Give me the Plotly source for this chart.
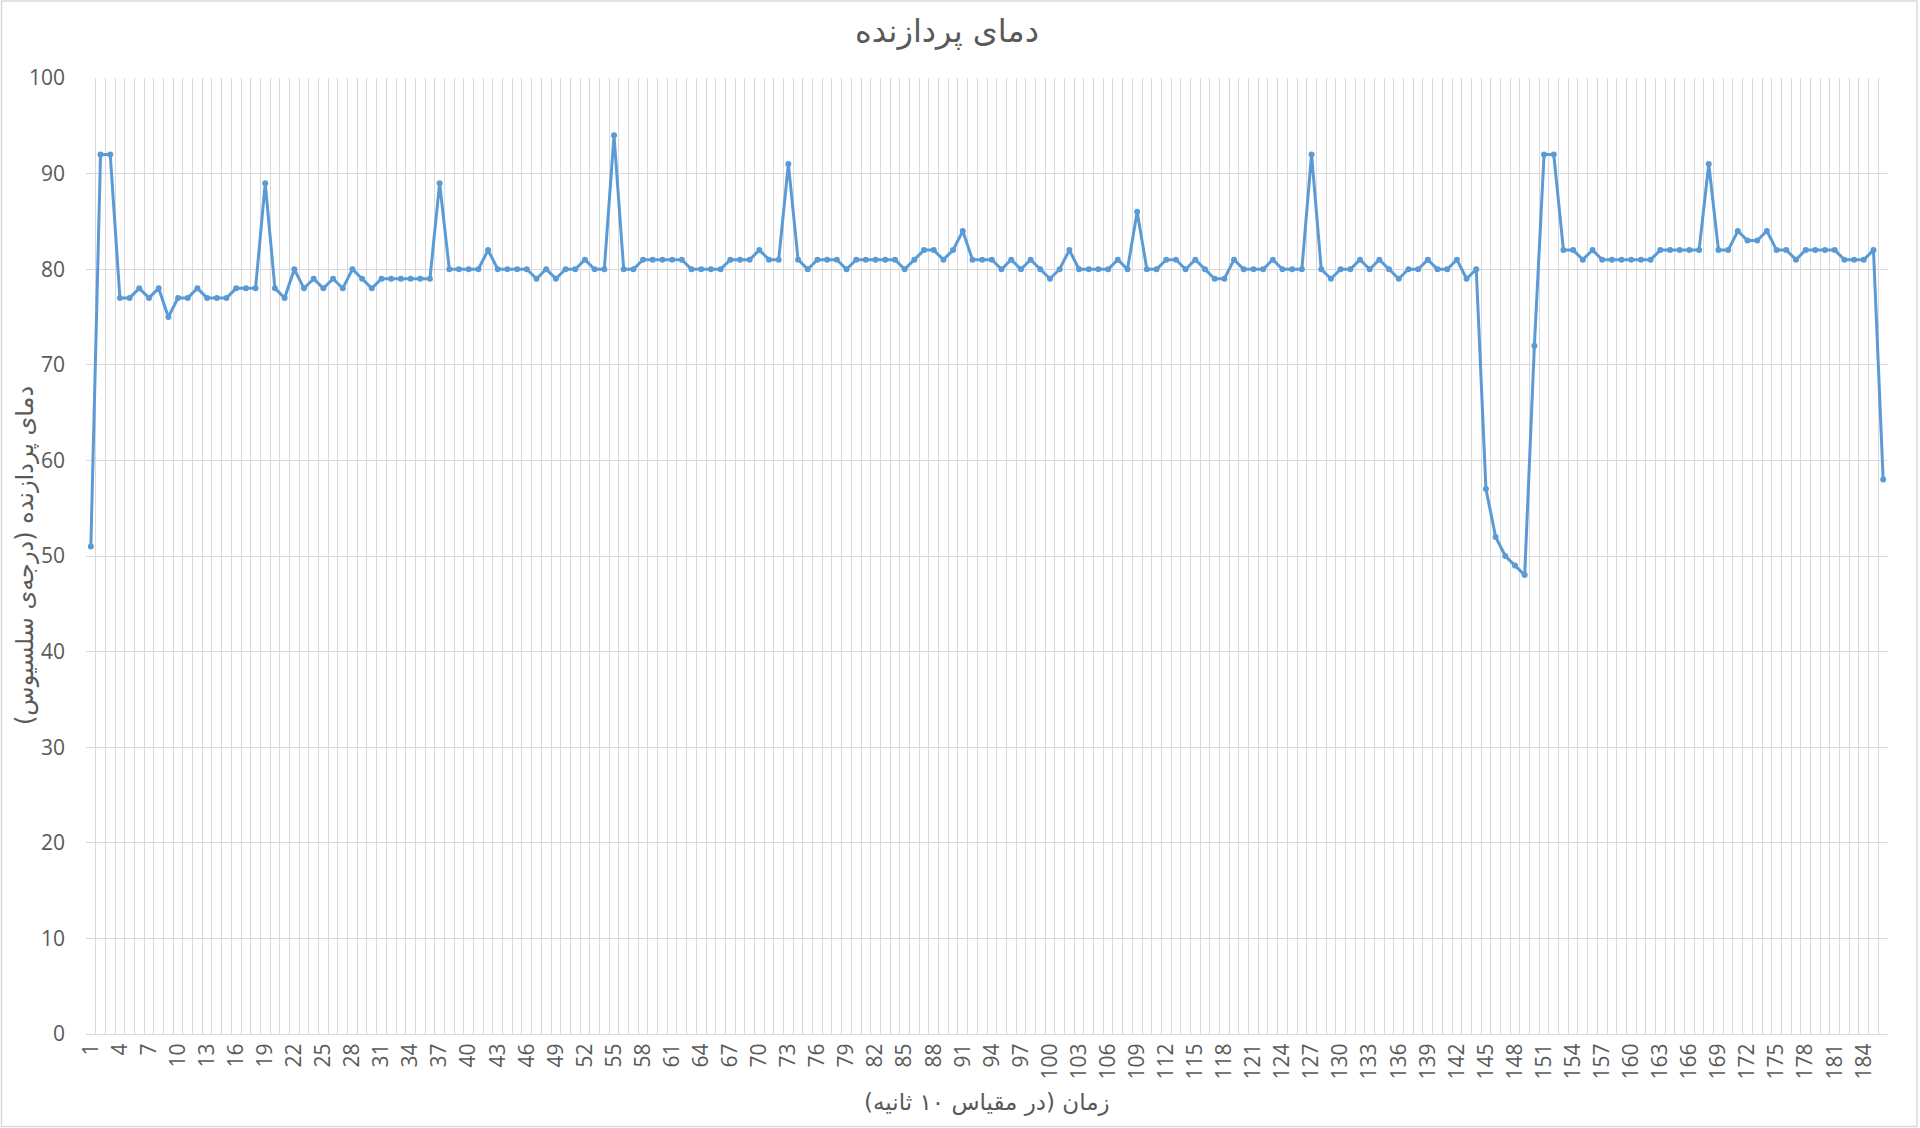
import plotly.graph_objects as go

# ---- data ----
time_index = list(range(1, 187))
temperature = [
    51, 92, 92, 77, 77, 78, 77, 78, 75, 77,
    77, 78, 77, 77, 77, 78, 78, 78, 89, 78,
    77, 80, 78, 79, 78, 79, 78, 80, 79, 78,
    79, 79, 79, 79, 79, 79, 89, 80, 80, 80,
    80, 82, 80, 80, 80, 80, 79, 80, 79, 80,
    80, 81, 80, 80, 94, 80, 80, 81, 81, 81,
    81, 81, 80, 80, 80, 80, 81, 81, 81, 82,
    81, 81, 91, 81, 80, 81, 81, 81, 80, 81,
    81, 81, 81, 81, 80, 81, 82, 82, 81, 82,
    84, 81, 81, 81, 80, 81, 80, 81, 80, 79,
    80, 82, 80, 80, 80, 80, 81, 80, 86, 80,
    80, 81, 81, 80, 81, 80, 79, 79, 81, 80,
    80, 80, 81, 80, 80, 80, 92, 80, 79, 80,
    80, 81, 80, 81, 80, 79, 80, 80, 81, 80,
    80, 81, 79, 80, 57, 52, 50, 49, 48, 72,
    92, 92, 82, 82, 81, 82, 81, 81, 81, 81,
    81, 81, 82, 82, 82, 82, 82, 91, 82, 82,
    84, 83, 83, 84, 82, 82, 81, 82, 82, 82,
    82, 81, 81, 81, 82, 58,
]
y_ticks = [0, 10, 20, 30, 40, 50, 60, 70, 80, 90, 100]

chart_title = "دمای پردازنده"
x_title = "زمان (در مقیاس ۱۰ ثانیه)"
y_title = "دمای پردازنده (درجه‌ی سلسیوس)"

# ---- layout geometry ----
W, H = 1920, 1128
L, R, T, B = 86, 32, 78, 94
pw, ph = W - L - R, H - T - B

def px_x(x):
    return (x - L) / pw

def px_y(y):
    return (H - B - y) / ph

line_color = "#5B9BD5"
grid_color = "#D9D9D9"
text_color = "#595959"
font_main = "Open Sans, DejaVu Sans, sans-serif"
font_fa = "DejaVu Sans, Noto Sans, sans-serif"

fig = go.Figure()
fig.add_trace(go.Scatter(
    x=time_index, y=temperature,
    mode="lines+markers",
    line=dict(color=line_color, width=3),
    marker=dict(color=line_color, size=6),
    hoverinfo="x+y",
    showlegend=False,
))

fig.update_layout(
    width=W, height=H,
    margin=dict(l=L, r=R, t=T, b=B, pad=0),
    paper_bgcolor="white",
    plot_bgcolor="white",
    font=dict(family=font_main, color=text_color, size=21),
    title=dict(
        text=chart_title,
        font=dict(family=font_fa, size=32, color=text_color),
        xref="container", yref="container",
        x=947 / W, y=1 - 31 / H, xanchor="center", yanchor="middle",
    ),
    xaxis=dict(
        range=[0.5, 186.5],
        tickmode="linear", tick0=1, dtick=3,
        tickangle=-90,
        showgrid=False,
        zeroline=False,
        showline=True, linecolor=grid_color, linewidth=1,
        ticks="",
        tickfont=dict(size=21, color=text_color, family=font_main),
        minor=dict(tickmode="linear", tick0=0.5, dtick=1, showgrid=True,
                   gridcolor=grid_color, gridwidth=1, ticks=""),
        fixedrange=True,
    ),
    yaxis=dict(
        range=[0, 100],
        tickmode="array", tickvals=y_ticks,
        showgrid=True, gridcolor=grid_color, gridwidth=1,
        zeroline=False, showline=False,
        ticks="",
        ticklabelstandoff=20,
        tickfont=dict(size=21, color=text_color, family=font_main),
        fixedrange=True,
    ),
    annotations=[
        dict(text=x_title, xref="paper", yref="paper",
             x=px_x(987), y=px_y(1102), xanchor="center", yanchor="middle",
             showarrow=False, font=dict(family=font_fa, size=23, color=text_color)),
        dict(text=y_title, xref="paper", yref="paper",
             x=px_x(25), y=px_y(556), xanchor="center", yanchor="middle",
             textangle=-90,
             showarrow=False, font=dict(family=font_fa, size=24, color=text_color)),
    ],
    shapes=[
        dict(type="rect", xref="paper", yref="paper",
             x0=px_x(1.5), x1=px_x(1917), y0=px_y(1126.5), y1=px_y(1),
             line=dict(color=grid_color, width=1.5), fillcolor="rgba(0,0,0,0)",
             layer="below"),
    ],
)

fig.write_html("out.html")
